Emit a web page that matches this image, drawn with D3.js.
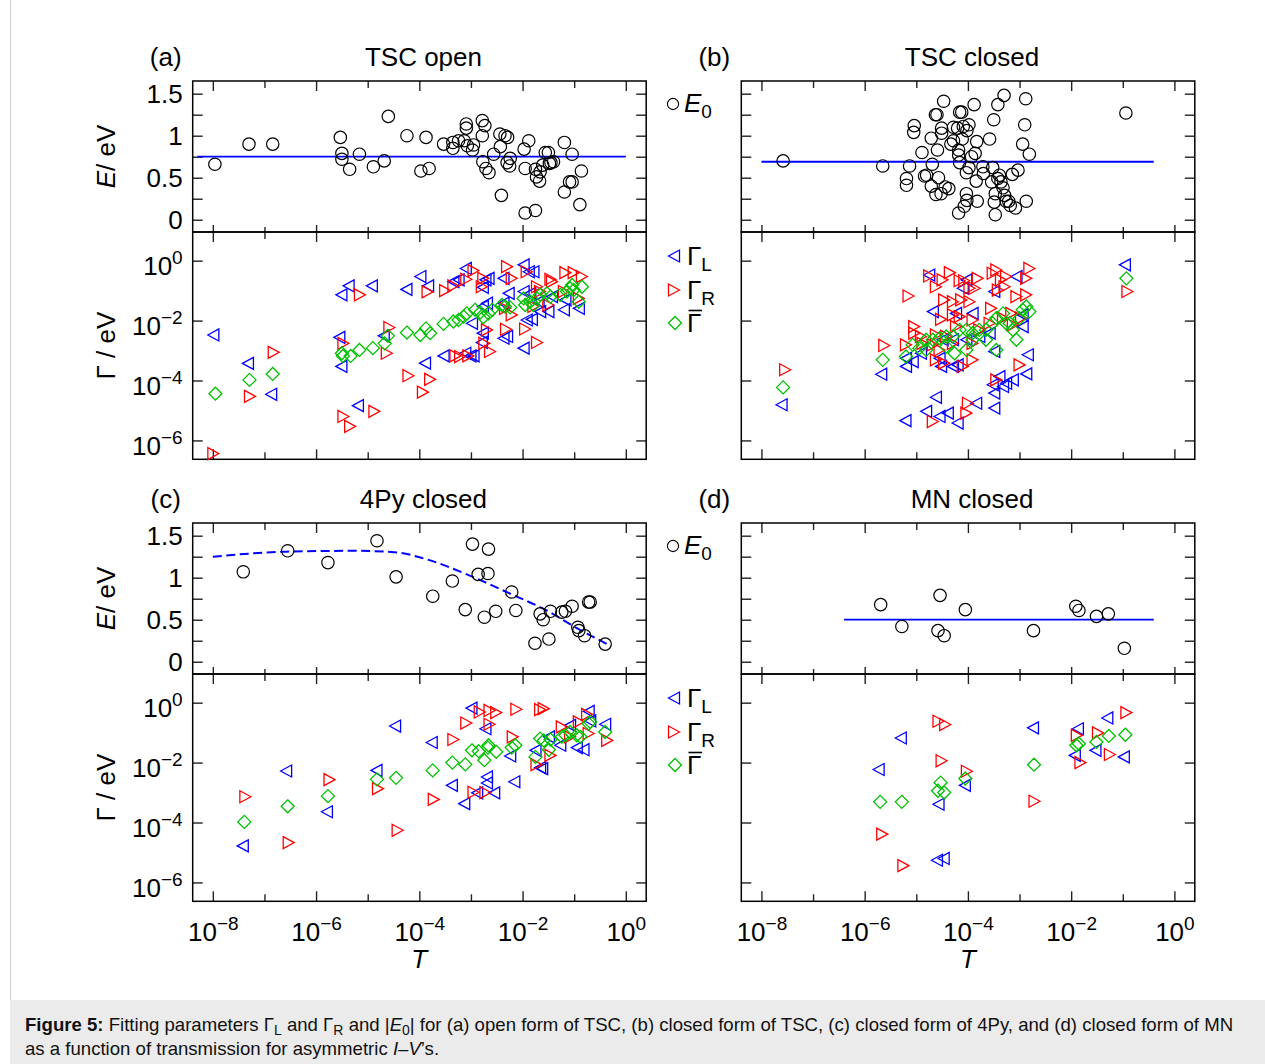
<!DOCTYPE html>
<html>
<head>
<meta charset="utf-8">
<script src="https://cdn.jsdelivr.net/npm/d3@7"></script>
<style>
  body { margin: 0; background: #fff; }
  svg { font-family: "Liberation Sans", Arial, Helvetica, sans-serif; }
</style>
</head>
<body>
<svg id="fig" width="1265" height="1064"></svg>
<script>
// all T values are stored as log10(T), all Gamma values as log10(Gamma / eV)

// (a) TSC open
const tscOpenE = [[-7.96,0.66],[-7.30,0.90],[-6.84,0.90],[-5.53,0.98],[-5.50,0.79],[-5.50,0.72],[-5.35,0.60],[-5.16,0.78],[-4.89,0.63],[-4.68,0.70],[-4.60,1.23],[-4.24,1.00],[-3.97,0.58],[-3.87,0.98],[-3.81,0.61],[-3.53,0.90],[-3.35,0.92],[-3.35,0.85],[-3.24,0.94],[-3.13,0.94],[-3.09,1.14],[-3.09,1.09],[-3.07,0.88],[-2.95,0.89],[-2.97,0.83],[-2.78,1.18],[-2.73,1.12],[-2.78,1.00],[-2.77,0.69],[-2.71,0.61],[-2.65,0.56],[-2.56,0.78],[-2.44,1.02],[-2.43,0.87],[-2.41,0.29],[-2.34,1.00],[-2.29,0.98],[-2.30,0.68],[-2.25,0.64],[-2.24,0.73],[-1.97,0.84],[-1.95,0.61],[-1.88,0.94],[-1.95,0.08],[-1.75,0.11],[-1.75,0.60],[-1.73,0.51],[-1.67,0.46],[-1.66,0.57],[-1.61,0.65],[-1.56,0.80],[-1.50,0.80],[-1.48,0.67],[-1.45,0.68],[-1.40,0.69],[-1.19,0.92],[-1.19,0.33],[-1.09,0.45],[-1.04,0.45],[-1.04,0.78],[-0.89,0.18],[-0.86,0.58]];
const tscOpenGL = [[-7.99,-2.48],[-7.32,-3.43],[-6.87,-4.46],[-5.51,-1.14],[-5.37,-0.84],[-4.92,-0.84],[-4.25,-0.96],[-3.98,-0.53],[-3.83,-0.84],[-5.55,-2.56],[-5.51,-3.53],[-5.19,-4.84],[-4.69,-2.51],[-3.89,-3.42],[-3.53,-3.18],[-3.34,-0.70],[-3.24,-0.64],[-3.10,-0.26],[-3.01,-3.18],[-3.11,-3.09],[-2.95,-3.18],[-2.72,-0.64],[-2.77,-0.89],[-2.66,-0.59],[-2.77,-1.53],[-2.69,-1.42],[-2.98,-2.09],[-2.77,-2.42],[-2.79,-2.73],[-2.37,-0.59],[-2.27,-1.09],[-2.37,-1.42],[-2.30,-2.53],[-2.37,-2.59],[-1.98,-0.14],[-1.88,-0.37],[-1.79,-0.37],[-1.98,-2.92],[-1.92,-1.98],[-1.82,-1.96],[-1.66,-1.70],[-1.50,-1.70],[-1.98,-1.03],[-1.85,-1.09],[-1.20,-1.64],[-0.91,-1.59],[-1.17,-1.31],[-1.69,-1.37],[-1.43,-1.20]];
const tscOpenGR = [[-7.99,-6.44],[-7.28,-4.53],[-6.82,-3.06],[-5.47,-2.76],[-5.47,-5.20],[-5.34,-5.53],[-5.15,-1.14],[-4.87,-5.03],[-4.63,-3.09],[-4.58,-2.23],[-4.21,-3.84],[-3.79,-3.96],[-3.93,-4.39],[-3.84,-1.04],[-3.50,-1.00],[-3.34,-0.84],[-3.09,-0.62],[-2.95,-0.33],[-2.76,-0.59],[-2.79,-0.87],[-3.30,-3.18],[-3.21,-3.20],[-3.05,-3.18],[-2.69,-2.31],[-2.74,-2.76],[-2.63,-3.03],[-2.30,-0.20],[-2.21,-0.59],[-2.32,-2.29],[-2.21,-1.81],[-2.34,-1.59],[-1.72,-2.73],[-1.95,-2.28],[-1.92,-0.37],[-1.72,-0.87],[-1.46,-0.62],[-1.43,-0.70],[-1.17,-0.40],[-1.01,-0.40],[-0.85,-0.53],[-1.20,-1.03],[-1.66,-1.03],[-0.91,-1.26],[-1.79,-1.53],[-1.50,-1.48]];
const tscOpenGbar = [[-7.95,-4.44],[-7.29,-3.98],[-6.84,-3.78],[-5.50,-3.09],[-5.48,-3.18],[-5.33,-3.18],[-5.16,-2.98],[-4.90,-2.92],[-4.67,-2.76],[-4.61,-2.51],[-4.24,-2.40],[-3.98,-2.48],[-3.87,-2.26],[-3.79,-2.42],[-3.53,-2.11],[-3.34,-2.03],[-3.24,-1.98],[-3.14,-1.87],[-3.08,-1.76],[-2.92,-1.64],[-2.82,-1.73],[-2.76,-1.89],[-2.66,-1.76],[-2.59,-1.64],[-2.40,-1.48],[-2.34,-1.53],[-2.24,-1.56],[-1.98,-1.26],[-1.95,-1.48],[-1.85,-1.37],[-1.79,-1.48],[-1.72,-1.26],[-1.66,-1.14],[-1.53,-1.09],[-1.46,-1.20],[-1.27,-1.14],[-1.14,-1.03],[-1.04,-0.81],[-1.01,-0.98],[-0.85,-0.87],[-0.91,-1.37],[-1.08,-0.92]];
const tscOpenFit = [[-8.3,0.75],[0,0.75]];

// (b) TSC closed
const tscClosedE = [[-7.58,0.70],[-5.65,0.64],[-5.13,0.64],[-5.19,0.49],[-5.19,0.41],[-5.04,1.12],[-5.05,1.04],[-4.89,0.80],[-4.84,0.52],[-4.80,0.53],[-4.71,0.97],[-4.71,0.40],[-4.69,0.66],[-4.63,1.25],[-4.60,1.25],[-4.59,0.83],[-4.62,0.30],[-4.57,0.50],[-4.51,1.09],[-4.51,1.03],[-4.47,1.41],[-4.52,0.31],[-4.44,0.39],[-4.37,0.37],[-4.33,0.90],[-4.28,1.10],[-4.28,0.94],[-4.20,1.09],[-4.18,0.83],[-4.16,1.28],[-4.12,1.28],[-4.18,0.77],[-4.16,0.68],[-4.11,0.96],[-4.09,1.11],[-4.02,1.06],[-3.98,1.13],[-4.03,0.31],[-4.02,0.23],[-4.07,0.16],[-4.18,0.08],[-4.03,0.56],[-3.98,0.62],[-3.93,0.75],[-3.86,0.79],[-3.88,1.37],[-3.83,0.93],[-3.84,0.46],[-3.82,0.22],[-3.71,0.63],[-3.70,0.55],[-3.58,0.96],[-3.50,1.19],[-3.52,0.62],[-3.54,0.45],[-3.49,0.21],[-3.47,0.06],[-3.47,0.31],[-3.42,1.37],[-3.42,0.49],[-3.39,0.53],[-3.36,0.45],[-3.32,0.38],[-3.30,1.48],[-3.29,0.29],[-3.26,0.22],[-3.21,0.22],[-3.18,0.17],[-3.14,0.54],[-3.08,0.14],[-3.03,0.59],[-2.94,0.90],[-2.90,1.13],[-2.88,1.44],[-2.87,0.22],[-2.81,0.78],[-0.94,1.27]];
const tscClosedGL = [[-7.61,-4.81],[-5.68,-3.79],[-0.96,-0.14],[-4.75,-0.48],[-4.03,-0.64],[-4.10,-0.92],[-3.49,-1.03],[-3.06,-0.53],[-4.68,-1.70],[-4.23,-1.76],[-3.91,-1.76],[-2.94,-1.81],[-5.20,-3.26],[-5.07,-3.37],[-5.20,-3.53],[-4.91,-3.09],[-4.55,-3.26],[-4.29,-3.53],[-4.20,-3.48],[-4.52,-3.53],[-3.49,-3.03],[-2.84,-3.14],[-2.87,-3.78],[-3.39,-3.87],[-3.52,-4.14],[-3.26,-4.09],[-3.13,-3.98],[-3.32,-4.20],[-3.49,-4.42],[-4.62,-4.56],[-4.81,-5.03],[-4.55,-5.20],[-4.39,-5.09],[-5.21,-5.34],[-4.20,-5.42],[-3.84,-4.76],[-3.49,-4.92],[-3.78,-2.53],[-3.58,-2.42],[-4.29,-2.64],[-4.03,-2.64],[-4.49,-2.64],[-2.94,-2.20]];
const tscClosedGR = [[-7.54,-3.64],[-5.62,-2.83],[-5.15,-1.18],[-0.91,-1.03],[-4.75,-0.51],[-4.62,-0.87],[-4.49,-0.64],[-4.35,-0.40],[-4.16,-0.67],[-4.07,-0.67],[-3.97,-0.92],[-3.81,-0.59],[-3.87,-0.92],[-3.52,-0.42],[-3.45,-0.31],[-3.36,-0.64],[-3.42,-0.98],[-3.26,-0.53],[-3.29,-0.87],[-2.87,-0.59],[-2.81,-0.26],[-3.06,-1.20],[-2.87,-1.14],[-3.55,-1.59],[-3.16,-1.76],[-4.46,-1.31],[-4.29,-1.37],[-4.13,-1.31],[-3.97,-1.37],[-4.29,-1.81],[-4.16,-1.87],[-4.52,-1.96],[-5.04,-2.20],[-5.04,-2.42],[-4.91,-2.53],[-4.62,-2.48],[-4.42,-2.53],[-4.23,-2.20],[-3.91,-1.98],[-3.78,-2.31],[-3.58,-2.09],[-3.32,-1.92],[-3.13,-2.14],[-2.97,-1.92],[-5.20,-2.81],[-4.88,-2.76],[-4.68,-2.81],[-4.55,-2.98],[-4.29,-2.76],[-3.91,-2.76],[-4.62,-3.31],[-4.46,-3.42],[-4.10,-3.53],[-3.91,-3.31],[-3.00,-3.48],[-3.45,-3.98],[-4.03,-5.09],[-4.68,-5.37],[-4.00,-4.76]];
const tscClosedGbar = [[-7.58,-4.23],[-5.65,-3.31],[-0.93,-0.59],[-5.20,-3.20],[-5.07,-2.81],[-4.94,-2.92],[-4.81,-2.98],[-4.68,-2.64],[-4.55,-2.59],[-4.42,-2.53],[-4.29,-2.53],[-4.26,-3.09],[-4.16,-2.31],[-4.03,-2.31],[-3.91,-2.42],[-3.78,-2.31],[-3.65,-2.31],[-3.52,-2.09],[-3.45,-1.92],[-3.32,-1.76],[-3.26,-2.09],[-3.13,-2.31],[-3.06,-2.64],[-3.45,-2.98],[-3.19,-2.09],[-3.00,-1.92],[-2.94,-1.64],[-2.81,-1.70],[-2.87,-1.53],[-4.03,-2.98],[-4.81,-2.64],[-4.42,-2.87],[-3.91,-2.64],[-3.65,-2.64]];
const tscClosedFit = [[-8,0.69],[-0.4,0.69]];

// (c) 4Py closed
const pyClosedE = [[-7.41,1.07],[-6.55,1.32],[-5.77,1.18],[-4.82,1.44],[-4.45,1.01],[-3.74,0.78],[-3.36,0.96],[-3.11,0.62],[-2.97,1.40],[-2.86,1.04],[-2.74,0.53],[-2.67,1.05],[-2.66,1.34],[-2.52,0.60],[-2.21,0.83],[-2.13,0.61],[-1.76,0.22],[-1.66,0.57],[-1.60,0.50],[-1.49,0.27],[-1.46,0.60],[-1.24,0.59],[-1.17,0.60],[-1.04,0.66],[-0.93,0.41],[-0.91,0.37],[-0.80,0.31],[-0.72,0.71],[-0.69,0.71],[-0.40,0.21]];
const pyClosedGL = [[-7.42,-4.78],[-6.58,-2.28],[-5.79,-3.64],[-4.83,-2.26],[-4.47,-0.78],[-3.76,-1.33],[-3.37,-2.76],[-3.13,-3.37],[-2.99,-0.18],[-2.88,-3.01],[-2.72,-0.87],[-2.69,-2.48],[-2.69,-2.68],[-2.55,-3.01],[-2.24,-1.78],[-2.16,-2.64],[-1.75,-1.59],[-1.66,-2.17],[-1.62,-2.20],[-1.49,-1.14],[-1.27,-1.42],[-0.95,-1.50],[-0.82,-1.57],[-0.72,-0.29],[-0.69,-0.61],[-0.40,-0.72],[-1.08,-0.76]];
const pyClosedGR = [[-7.37,-3.14],[-6.53,-4.67],[-5.74,-2.57],[-4.80,-2.87],[-4.42,-4.26],[-3.72,-3.23],[-3.34,-1.23],[-3.09,-0.68],[-2.95,-2.99],[-2.83,-0.31],[-2.72,-3.00],[-2.64,-0.72],[-2.64,-0.26],[-2.51,-0.33],[-2.12,-0.22],[-2.19,-1.14],[-1.66,-0.23],[-1.59,-0.20],[-1.73,-2.07],[-1.46,-1.76],[-1.24,-0.81],[-0.91,-0.64],[-0.75,-0.39],[-0.72,-1.03],[-0.36,-1.26],[-1.08,-1.14]];
const pyClosedGbar = [[-7.39,-3.98],[-6.55,-3.46],[-5.77,-3.12],[-4.82,-2.56],[-4.45,-2.51],[-3.74,-2.26],[-3.36,-2.00],[-3.11,-2.06],[-2.98,-1.59],[-2.85,-1.62],[-2.74,-1.92],[-2.67,-1.50],[-2.66,-1.42],[-2.51,-1.64],[-2.21,-1.50],[-2.14,-1.42],[-1.75,-1.81],[-1.66,-1.20],[-1.59,-1.26],[-1.49,-1.57],[-1.46,-1.23],[-1.24,-1.14],[-1.17,-1.09],[-0.95,-1.09],[-0.88,-1.14],[-0.72,-0.70],[-0.69,-0.64],[-0.40,-0.98],[-1.08,-0.98]];
const pyClosedFit = [[-8,1.25],[-6.57,1.31],[-5.21,1.32],[-4.43,1.30],[-3.92,1.23],[-3.08,1.04],[-2.24,0.81],[-1.50,0.60],[-0.95,0.40],[-0.36,0.21]];

// (d) MN closed
const mnClosedE = [[-5.69,0.68],[-5.28,0.42],[-4.58,0.37],[-4.54,0.79],[-4.46,0.31],[-4.05,0.62],[-2.73,0.37],[-1.91,0.66],[-1.85,0.61],[-1.51,0.54],[-1.28,0.57],[-0.97,0.16]];
const mnClosedGL = [[-5.73,-2.23],[-5.30,-1.18],[-4.57,-3.39],[-4.60,-5.26],[-4.47,-5.20],[-4.06,-2.76],[-2.74,-0.84],[-1.87,-0.87],[-1.93,-1.76],[-1.53,-1.59],[-1.30,-0.51],[-0.98,-1.81]];
const mnClosedGR = [[-5.66,-4.39],[-5.25,-5.44],[-4.57,-0.62],[-4.44,-0.73],[-4.51,-1.94],[-4.02,-2.29],[-2.71,-3.29],[-1.89,-1.09],[-1.82,-2.00],[-1.48,-1.01],[-1.25,-1.73],[-0.93,-0.33]];
const mnClosedGbar = [[-5.70,-3.31],[-5.28,-3.31],[-4.53,-2.67],[-4.58,-2.94],[-4.46,-3.00],[-4.05,-2.53],[-2.72,-2.07],[-1.90,-1.42],[-1.85,-1.37],[-1.51,-1.31],[-1.27,-1.11],[-0.95,-1.07]];
const mnClosedFit = [[-6.4,0.5],[-0.4,0.5]];

// axes
const eTicks = [0, 0.25, 0.5, 0.75, 1, 1.25, 1.5];
const eTickLabels = [0, 0.5, 1, 1.5];
const gTicks = [0, -2, -4, -6];
const tTicks = [-8, -7, -6, -5, -4, -3, -2, -1, 0];
const tTickLabels = [-8, -6, -4, -2, 0];

const panels = [
  { tag: "(a)", title: "TSC open",   col: 0, row: 0, E: tscOpenE,   L: tscOpenGL,   R: tscOpenGR,   G: tscOpenGbar,   fit: tscOpenFit,   dashed: false },
  { tag: "(b)", title: "TSC closed", col: 1, row: 0, E: tscClosedE, L: tscClosedGL, R: tscClosedGR, G: tscClosedGbar, fit: tscClosedFit, dashed: false },
  { tag: "(c)", title: "4Py closed", col: 0, row: 1, E: pyClosedE,  L: pyClosedGL,  R: pyClosedGR,  G: pyClosedGbar,  fit: pyClosedFit,  dashed: true },
  { tag: "(d)", title: "MN closed",  col: 1, row: 1, E: mnClosedE,  L: mnClosedGL,  R: mnClosedGR,  G: mnClosedGbar,  fit: mnClosedFit,  dashed: false }
];

const colX = [192.7, 741.3];
const rowY = [81, 523];
const W = 453.5, eH = 151, gH = 227.3;
const BLUE = "#0000ff", RED = "#ff0000", GREEN = "#00c000";
const FS = 26;

const svg = d3.select("#fig");

// figure frame and caption box
svg.append("rect").attr("x", 0).attr("y", 0).attr("width", 1265).attr("height", 1064).attr("fill", "#fff");
svg.append("line").attr("x1", 10.5).attr("x2", 10.5).attr("y1", 0).attr("y2", 1000).attr("stroke", "#d0d0d0");
svg.append("rect").attr("x", 10).attr("y", 1000).attr("width", 1255).attr("height", 64).attr("fill", "#ebebeb");

const x = d3.scaleLog().domain([10 ** -8.39, 10 ** 0.395]).range([0, W]);
const yE = d3.scaleLinear().domain([-0.146, 1.651]).range([eH, 0]);
const yG = d3.scaleLog().domain([10 ** -6.63, 10 ** 0.957]).range([gH, 0]);

const tx = d => x(10 ** d[0]);

const triL = "M-5.5,0L5.5,-6L5.5,6Z";
const triR = "M5.5,0L-5.5,-6L-5.5,6Z";
const diam = "M0,-6.5L6.5,0L0,6.5L-6.5,0Z";

function powText(sel, k, sup) {
  sel.append("tspan").text("10");
  sel.append("tspan").attr("dy", -11).attr("font-size", sup).text(k < 0 ? "\u2212" + (-k) : String(k));
}

function tickLen(d, big, small) {
  return Math.abs(Math.round(Math.log10(d))) % 2 === 0 ? big : small;
}

function styleAxis(g) {
  g.select(".domain").remove();
  g.selectAll(".tick line").attr("stroke", "#222").attr("stroke-width", 1.4);
  g.selectAll("text").attr("font-size", FS).attr("fill", "#000").attr("font-family", null);
}

panels.forEach(p => {
  const ox = colX[p.col], oy = rowY[p.row];
  const g = svg.append("g").attr("transform", `translate(${ox},${oy})`);
  const eg = g.append("g");
  const gg = g.append("g").attr("transform", `translate(0,${eH})`);

  // ---- E panel axes
  const eLeft = eg.append("g").call(d3.axisLeft(yE).tickValues(eTicks).tickSize(-10).tickPadding(10)
    .tickFormat(d => (p.col === 0 && eTickLabels.includes(d)) ? d3.format("")(d) : ""));
  styleAxis(eLeft);
  const eRight = eg.append("g").attr("transform", `translate(${W},0)`)
    .call(d3.axisRight(yE).tickValues(eTicks).tickSize(-10).tickFormat(""));
  styleAxis(eRight);
  const eTop = eg.append("g").call(d3.axisTop(x).tickValues(tTicks.map(k => 10 ** k)).tickSize(-10).tickFormat(""));
  styleAxis(eTop);
  eTop.selectAll(".tick line").attr("y2", d => tickLen(d, 10, 7));
  const eBot = eg.append("g").attr("transform", `translate(0,${eH})`)
    .call(d3.axisBottom(x).tickValues(tTicks.map(k => 10 ** k)).tickSize(-7).tickFormat(""));
  styleAxis(eBot);
  eBot.selectAll(".tick line").attr("y2", d => -tickLen(d, 7, 5));

  // ---- Gamma panel axes
  const gLeft = gg.append("g").call(d3.axisLeft(yG).tickValues(gTicks.map(k => 10 ** k)).tickSize(-10).tickPadding(10).tickFormat(""));
  styleAxis(gLeft);
  if (p.col === 0) {
    gLeft.selectAll(".tick text").each(function(d) {
      powText(d3.select(this).attr("dy", "0.55em"), Math.round(Math.log10(d)), 19);
    });
  }
  const gRight = gg.append("g").attr("transform", `translate(${W},0)`)
    .call(d3.axisRight(yG).tickValues(gTicks.map(k => 10 ** k)).tickSize(-10).tickFormat(""));
  styleAxis(gRight);
  const gTop = gg.append("g").call(d3.axisTop(x).tickValues(tTicks.map(k => 10 ** k)).tickSize(-10).tickFormat(""));
  styleAxis(gTop);
  gTop.selectAll(".tick line").attr("y2", d => tickLen(d, 10, 7));
  const gBot = gg.append("g").attr("transform", `translate(0,${gH})`)
    .call(d3.axisBottom(x).tickValues(tTicks.map(k => 10 ** k)).tickSize(-10).tickPadding(12).tickFormat(""));
  styleAxis(gBot);
  gBot.selectAll(".tick line").attr("y2", d => -tickLen(d, 10, 7));
  if (p.row === 1) {
    gBot.selectAll(".tick text").filter(d => tTickLabels.includes(Math.round(Math.log10(d))))
      .each(function(d) {
        powText(d3.select(this).attr("dy", "1.05em"), Math.round(Math.log10(d)), 19);
      });
    g.append("text").attr("x", x(10 ** -4)).attr("y", eH + gH + 67)
      .attr("text-anchor", "middle").attr("font-size", FS).attr("font-style", "italic").text("T");
  }

  // frames
  eg.append("rect").attr("width", W).attr("height", eH).attr("fill", "none").attr("stroke", "#000").attr("stroke-width", 1.5);
  gg.append("rect").attr("width", W).attr("height", gH).attr("fill", "none").attr("stroke", "#000").attr("stroke-width", 1.5);

  // ---- E data
  const line = d3.line().x(tx).y(d => yE(d[1]));
  if (p.dashed) line.curve(d3.curveMonotoneX);
  eg.append("path").datum(p.fit).attr("d", line).attr("fill", "none").attr("stroke", BLUE)
    .attr("stroke-width", p.dashed ? 2 : 1.8).attr("stroke-dasharray", p.dashed ? "9,4.5" : null);
  eg.append("g").selectAll("circle").data(p.E).join("circle")
    .attr("cx", tx).attr("cy", d => yE(d[1])).attr("r", 6.2)
    .attr("fill", "none").attr("stroke", "#000").attr("stroke-width", 1.2);

  // ---- Gamma data
  const mk = (data, path, color) => gg.append("g").selectAll("path").data(data).join("path")
    .attr("d", path).attr("transform", d => `translate(${tx(d)},${yG(10 ** d[1])})`)
    .attr("fill", "none").attr("stroke", color).attr("stroke-width", 1.3);
  mk(p.L, triL, BLUE);
  mk(p.R, triR, RED);
  mk(p.G, diam, GREEN);

  // labels
  g.append("text").attr("x", -27).attr("y", -15).attr("text-anchor", "middle").attr("font-size", FS).text(p.tag);
  g.append("text").attr("x", W / 2 + 4).attr("y", -15).attr("text-anchor", "middle").attr("font-size", FS).text(p.title);

  if (p.col === 0) {
    const el = g.append("text").attr("transform", `translate(-78,${eH / 2}) rotate(-90)`)
      .attr("text-anchor", "middle").attr("font-size", FS);
    el.append("tspan").attr("font-style", "italic").text("E");
    el.append("tspan").text("/ eV");
    g.append("text").attr("transform", `translate(-78,${eH + gH / 2}) rotate(-90)`)
      .attr("text-anchor", "middle").attr("font-size", FS).text("\u0393 / eV");
  }

  // legend in the gap between columns
  if (p.col === 0) {
    const lg = svg.append("g").attr("transform", `translate(673,${oy})`);
    lg.append("circle").attr("cx", 0).attr("cy", 23).attr("r", 5.6).attr("fill", "none").attr("stroke", "#000").attr("stroke-width", 1.1);
    const te = lg.append("text").attr("x", 11).attr("y", 31).attr("font-size", FS);
    te.append("tspan").attr("font-style", "italic").text("E");
    te.append("tspan").attr("dy", 6).attr("font-size", 19).text("0");
    const items = [[triL, BLUE, "L", 175], [triR, RED, "R", 209]];
    items.forEach(([path, color, sub, yy]) => {
      lg.append("path").attr("d", path).attr("transform", `translate(1,${yy})`)
        .attr("fill", "none").attr("stroke", color).attr("stroke-width", 1.3);
      const t = lg.append("text").attr("x", 14).attr("y", yy + 9).attr("font-size", FS);
      t.append("tspan").text("\u0393");
      t.append("tspan").attr("dy", 6).attr("font-size", 19).text(sub);
    });
    lg.append("path").attr("d", diam).attr("transform", "translate(2,242)")
      .attr("fill", "none").attr("stroke", GREEN).attr("stroke-width", 1.3);
    lg.append("text").attr("x", 14).attr("y", 251).attr("font-size", FS).text("\u0393");
    lg.append("line").attr("x1", 15.5).attr("x2", 29).attr("y1", 229.5).attr("y2", 229.5)
      .attr("stroke", "#000").attr("stroke-width", 1.6);
  }
});

// caption
const CF = 18.6, CS = 14;
const cap = svg.append("text").attr("x", 25).attr("y", 1031).attr("font-size", CF).attr("fill", "#111");
cap.append("tspan").attr("font-weight", "bold").text("Figure 5:");
cap.append("tspan").text(" Fitting parameters \u0393");
cap.append("tspan").attr("dy", 4).attr("font-size", CS).text("L");
cap.append("tspan").attr("dy", -4).text(" and \u0393");
cap.append("tspan").attr("dy", 4).attr("font-size", CS).text("R");
cap.append("tspan").attr("dy", -4).text(" and |");
cap.append("tspan").attr("font-style", "italic").text("E");
cap.append("tspan").attr("dy", 4).attr("font-size", CS).text("0");
cap.append("tspan").attr("dy", -4).text("| for (a) open form of TSC, (b) closed form of TSC, (c) closed form of 4Py, and (d) closed form of MN");
const cap2 = svg.append("text").attr("x", 25).attr("y", 1055).attr("font-size", CF).attr("fill", "#111");
cap2.append("tspan").text("as a function of transmission for asymmetric ");
cap2.append("tspan").attr("font-style", "italic").text("I");
cap2.append("tspan").text("\u2013");
cap2.append("tspan").attr("font-style", "italic").text("V");
cap2.append("tspan").text("\u2019s.");
</script>
</body>
</html>
